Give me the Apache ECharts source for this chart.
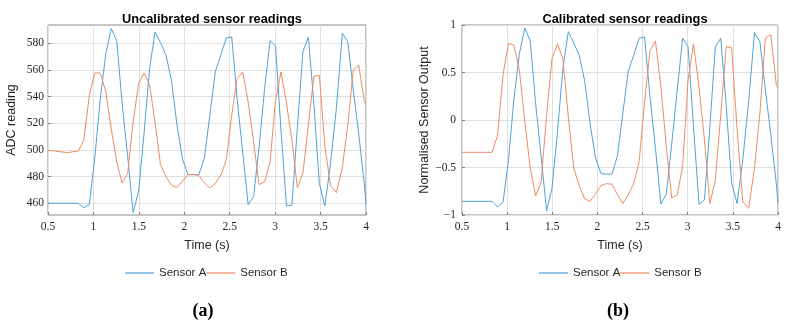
<!DOCTYPE html>
<html lang="en">
<head>
  <meta charset="UTF-8">
  <title>Sensor readings</title>
  <script src="https://cdn.jsdelivr.net/npm/echarts@6/dist/echarts.min.js"></script>
</head>
<body style="margin:0;background:#fff">
<div id="main" style="width:792px;height:324px;"></div>
<script type="text/javascript">
  // sample times (s)
  var times = [
    0.5, 0.716, 0.834, 0.894, 0.955,
    1.015, 1.075, 1.136, 1.196, 1.256,
    1.316, 1.377, 1.437, 1.497, 1.558,
    1.618, 1.678, 1.738, 1.799, 1.859,
    1.919, 1.979, 2.040, 2.100, 2.160,
    2.221, 2.281, 2.341, 2.401, 2.462,
    2.522, 2.582, 2.643, 2.703, 2.763,
    2.823, 2.884, 2.944, 3.004, 3.064,
    3.125, 3.185, 3.245, 3.306, 3.366,
    3.426, 3.486, 3.547, 3.610, 3.675,
    3.740, 3.800, 3.860, 3.920, 3.980,
    4.0
  ];
  // (a) uncalibrated ADC readings
  var rawA = [
    460, 460, 460, 456.5, 459,
    494, 538, 572, 591, 582,
    535, 495, 453, 469, 513,
    561, 588.5, 580.5, 571, 552,
    519, 493.5, 481.5, 481.5, 481.5,
    494, 526, 558.5, 571, 584,
    584.75, 538, 498, 459, 465,
    502, 546, 582, 578, 515,
    458, 458.5, 517, 574, 584.5,
    535, 475, 458, 490, 532,
    587.5, 581, 545, 512, 475,
    459
  ];
  var rawB = [
    499.75, 498, 499.25, 507.25, 541,
    557.75, 557.75, 543.5, 516, 491,
    475.25, 482.25, 521, 549.75, 557.75,
    549, 521, 489, 479.75, 473.5,
    471.75, 476.5, 481.5, 481.5, 481,
    475.25, 471.5, 474.75, 481, 492.25,
    526, 553.5, 558.5, 536, 506,
    474, 476, 491, 537, 558.5,
    535, 507, 471.5, 482.7, 519,
    555.3, 556, 503, 473, 468,
    487, 519, 560, 563.5, 537,
    534
  ];
  // (b) calibrated, normalised output
  var calA = [
    -0.856, -0.856, -0.856, -0.916, -0.863,
    -0.42, 0.22, 0.70, 0.968, 0.83,
    0.17, -0.39, -0.955, -0.72, -0.12,
    0.55, 0.93, 0.81, 0.68, 0.41,
    -0.04, -0.40, -0.565, -0.57, -0.57,
    -0.38, 0.07, 0.51, 0.68, 0.86,
    0.875, 0.25, -0.30, -0.885, -0.78,
    -0.25, 0.32, 0.86, 0.77, -0.07,
    -0.888, -0.84, -0.08, 0.77, 0.86,
    0.16, -0.66, -0.88, -0.42, 0.2,
    0.92, 0.82, 0.32, -0.15, -0.66,
    -0.87
  ];
  var calB = [
    -0.34, -0.34, -0.34, -0.16, 0.48,
    0.805, 0.79, 0.52, -0.02, -0.51,
    -0.80, -0.65, 0.05, 0.65, 0.80,
    0.64, 0.03, -0.51, -0.69, -0.83,
    -0.856, -0.776, -0.69, -0.67, -0.675,
    -0.786, -0.88, -0.79, -0.67, -0.44,
    0.19, 0.73, 0.83, 0.35, -0.28,
    -0.82, -0.79, -0.48, 0.42, 0.80,
    0.35, -0.2, -0.88, -0.635, 0.06,
    0.77, 0.76, -0.1, -0.86, -0.93,
    -0.50, 0.08, 0.86, 0.90, 0.38,
    0.33
  ];
  var rawTicks = [460, 480, 500, 520, 540, 560, 580];
  var names = ['Sensor A', 'Sensor B'];

  var blue = '#4fa1dc';
  var orange = '#ef8b62';
  var serif = 'Liberation Serif';
  var sans = 'Liberation Sans';
  var gridGrey = '#e0e0e0';

  function pairs(arr) {
    return times.map(function (t, i) { return [t, arr[i]]; });
  }

  function xAxisOf(idx) {
    return {
      type: 'value', gridIndex: idx, min: 0.5, max: 4, interval: 0.5,
      name: 'Time (s)', nameLocation: 'middle', nameGap: 24,
      nameTextStyle: { fontFamily: sans, fontSize: 12.5, color: '#262626' },
      axisLine: { show: false, onZero: false },
      axisTick: { inside: true, length: 3, lineStyle: { color: '#808080' } },
      axisLabel: { fontFamily: serif, fontSize: 11.5, color: '#262626', margin: 6 },
      splitLine: { show: true, lineStyle: { color: gridGrey } }
    };
  }

  function legendAt(x) {
    return {
      data: names, left: x, top: 262, icon: 'rect', itemWidth: 29, itemHeight: 1.2, itemGap: 0,
      textStyle: { fontFamily: sans, fontSize: 11.5, color: '#262626' }
    };
  }

  var myChart = echarts.init(document.getElementById('main'));
  var option = {
    backgroundColor: '#fff',
    animation: false,
    title: [
      { text: 'Uncalibrated sensor readings', left: 207, top: 8, textAlign: 'center',
        textStyle: { fontFamily: sans, fontSize: 12.8, fontWeight: 'bold', color: '#000' } },
      { text: 'Calibrated sensor readings', left: 620, top: 8, textAlign: 'center',
        textStyle: { fontFamily: sans, fontSize: 12.8, fontWeight: 'bold', color: '#000' } },
      { text: '(a)', left: 198, top: 297, textAlign: 'center',
        textStyle: { fontFamily: serif, fontSize: 18, fontWeight: 'bold', color: '#000' } },
      { text: '(b)', left: 613, top: 297, textAlign: 'center',
        textStyle: { fontFamily: serif, fontSize: 18, fontWeight: 'bold', color: '#000' } }
    ],
    legend: [legendAt(120), legendAt(534)],
    grid: [
      { left: 48, top: 25, width: 318, height: 190, show: true, borderColor: '#8c8c8c', borderWidth: 1 },
      { left: 462, top: 25, width: 316, height: 190, show: true, borderColor: '#8c8c8c', borderWidth: 1 }
    ],
    xAxis: [xAxisOf(0), xAxisOf(1)],
    yAxis: [
      {
        type: 'value', gridIndex: 0, min: 451.2, max: 593.7,
        name: 'ADC reading', nameLocation: 'middle', nameGap: 30,
        nameTextStyle: { fontFamily: sans, fontSize: 12.5, color: '#262626' },
        axisLine: { show: false, onZero: false },
        axisTick: { inside: true, length: 3, customValues: rawTicks, lineStyle: { color: '#808080' } },
        axisLabel: { fontFamily: serif, fontSize: 11.5, color: '#262626', margin: 4, customValues: rawTicks },
        splitLine: { show: true, lineStyle: { color: gridGrey } }
      },
      {
        type: 'value', gridIndex: 1, min: -1, max: 1, interval: 0.5,
        name: 'Normalised Sensor Output', nameLocation: 'middle', nameGap: 31,
        nameTextStyle: { fontFamily: sans, fontSize: 12.5, color: '#262626' },
        axisLine: { show: false, onZero: false },
        axisTick: { inside: true, length: 3, lineStyle: { color: '#808080' } },
        axisLabel: {
          fontFamily: serif, fontSize: 11.5, color: '#262626', margin: 6,
          formatter: function (v) { return String(v).replace('-', '\u2212'); }
        },
        splitLine: { show: true, lineStyle: { color: gridGrey } }
      }
    ],
    series: [
      { name: 'Sensor A', type: 'line', xAxisIndex: 0, yAxisIndex: 0, data: pairs(rawA),
        symbol: 'none', color: blue, lineStyle: { width: 1 } },
      { name: 'Sensor B', type: 'line', xAxisIndex: 0, yAxisIndex: 0, data: pairs(rawB),
        symbol: 'none', color: orange, lineStyle: { width: 1 } },
      { name: 'Sensor A', type: 'line', xAxisIndex: 1, yAxisIndex: 1, data: pairs(calA),
        symbol: 'none', color: blue, lineStyle: { width: 1 } },
      { name: 'Sensor B', type: 'line', xAxisIndex: 1, yAxisIndex: 1, data: pairs(calB),
        symbol: 'none', color: orange, lineStyle: { width: 1 } }
    ]
  };
  myChart.setOption(option);
</script>
</body>
</html>
